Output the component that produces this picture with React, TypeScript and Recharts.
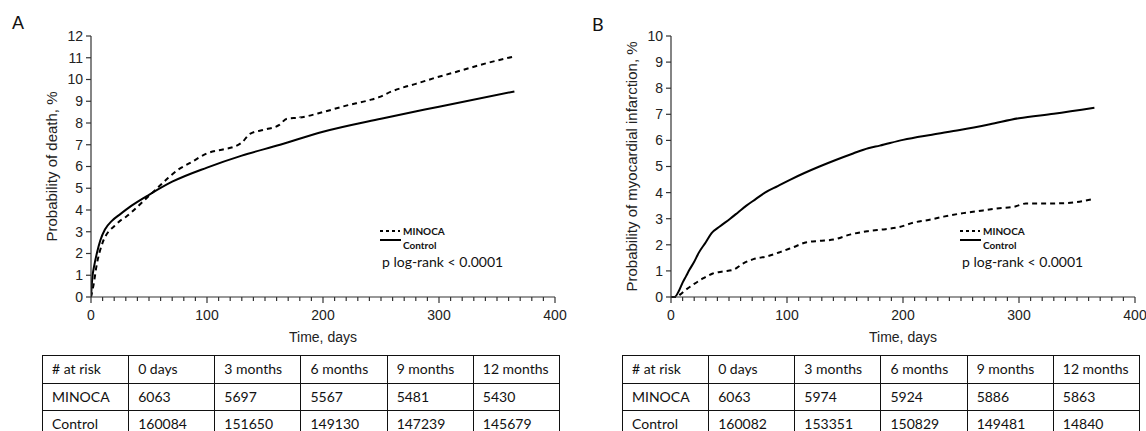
import React from "react";
import { LineChart, Line, XAxis, YAxis, Label } from "recharts";

// Panel A: probability of death (%)
const minocaDaysA = [0, 2, 5, 10, 15, 20, 25, 30, 35, 45, 55, 65, 75, 85, 100, 115, 123, 130, 137, 150, 162, 169, 180, 200, 220, 240, 249, 259, 270, 280, 295, 318, 341, 364];
const minocaProbA = [0, 0.5, 1.5, 2.5, 3.0, 3.25, 3.5, 3.68, 3.9, 4.4, 4.9, 5.4, 5.85, 6.15, 6.6, 6.8, 6.9, 7.1, 7.5, 7.7, 7.9, 8.2, 8.25, 8.5, 8.8, 9.05, 9.2, 9.45, 9.65, 9.8, 10.05, 10.4, 10.75, 11.05];
const controlDaysA = [0, 1, 3, 5, 8, 12, 18, 25, 35, 50, 70, 100, 130, 163, 200, 250, 300, 365];
const controlProbA = [0, 0.8, 1.5, 2.0, 2.6, 3.1, 3.5, 3.8, 4.2, 4.7, 5.3, 5.95, 6.5, 7.0, 7.6, 8.2, 8.75, 9.45];

// Panel B: probability of myocardial infarction (%)
const minocaDaysB = [0, 5, 8, 12, 20, 28, 36, 45, 54, 62, 71, 82, 94, 105, 117, 128, 140, 155, 169, 185, 197, 209, 222, 235, 250, 263, 283, 295, 306, 320, 341, 364];
const minocaProbB = [0, 0, 0.1, 0.25, 0.5, 0.72, 0.9, 0.98, 1.05, 1.28, 1.45, 1.55, 1.72, 1.9, 2.1, 2.15, 2.2, 2.4, 2.52, 2.6, 2.68, 2.85, 2.95, 3.08, 3.2, 3.28, 3.4, 3.45, 3.58, 3.58, 3.6, 3.75];
const controlDaysB = [0, 3, 7, 10, 13, 16, 20, 24, 30, 35, 42, 51, 58, 65, 73, 81, 92, 103, 115, 128, 142, 157, 170, 180, 200, 225, 249, 275, 300, 330, 365];
const controlProbB = [0, 0, 0.25, 0.55, 0.8, 1.05, 1.35, 1.7, 2.1, 2.45, 2.7, 3.0, 3.25, 3.5, 3.75, 4.0, 4.25, 4.5, 4.75, 5.0, 5.25, 5.5, 5.7, 5.8, 6.02, 6.22, 6.4, 6.62, 6.85, 7.02, 7.25];

const xTicks = [0, 10, 20, 30, 40, 50, 60, 70, 80, 90, 100, 110, 120, 130, 140, 150, 160, 170, 180, 190, 200, 210, 220, 230, 240, 250, 260, 270, 280, 290, 300, 310, 320, 330, 340, 350, 360, 370, 380, 390, 400];
const yTicksA = [0, 1, 2, 3, 4, 5, 6, 7, 8, 9, 10, 11, 12];
const yTicksB = [0, 1, 2, 3, 4, 5, 6, 7, 8, 9, 10];

const riskHeader = ["# at risk", "0 days", "3 months", "6 months", "9 months", "12 months"];
const riskMinocaA = ["6063", "5697", "5567", "5481", "5430"];
const riskControlA = ["160084", "151650", "149130", "147239", "145679"];
const riskMinocaB = ["6063", "5974", "5924", "5886", "5863"];
const riskControlB = ["160082", "153351", "150829", "149481", "14840"];

const AXIS = "#333";
const ARIAL = "Liberation Sans, Arial, sans-serif";
const CALIBRI = "Lato, Carlito, sans-serif";

const toPoints = (days: number[], probs: number[]) => days.map((d, i) => ({ day: d, p: probs[i] }));

const XTick = (props: any) => {
  const { x, y, payload } = props;
  const major = payload.value % 100 === 0;
  return (
    <g>
      <line x1={x} x2={x} y1={y} y2={y + (major ? 6 : 4)} stroke={AXIS} strokeWidth={1.2} />
      {major && (
        <text x={x} y={y + 23} textAnchor="middle" fontSize={14} fontFamily={ARIAL} fill="#222">
          {payload.value}
        </text>
      )}
    </g>
  );
};

interface PanelProps {
  left: number;
  width: number;
  letter: string;
  letterFont: string;
  yMax: number;
  yTicks: number[];
  yLabel: string;
  minoca: { day: number; p: number }[];
  control: { day: number; p: number }[];
  riskMinoca: string[];
  riskControl: string[];
}

const Panel = ({ left, width, letter, letterFont, yMax, yTicks, yLabel, minoca, control, riskMinoca, riskControl }: PanelProps) => {
  const rows = [riskHeader, ["MINOCA", ...riskMinoca], ["Control", ...riskControl]];
  return (
    <div style={{ position: "absolute", left, top: 0, width, height: 431 }}>
      <div style={{ position: "absolute", left: 12, top: 13, fontSize: 18, fontFamily: letterFont, color: "#111" }}>{letter}</div>
      <LineChart width={width} height={345} margin={{ top: 36, right: width - 555, left: 0, bottom: 0 }}>
        <XAxis
          dataKey="day"
          type="number"
          domain={[0, 400]}
          ticks={xTicks}
          interval={0}
          tick={<XTick />}
          tickLine={false}
          tickSize={0}
          tickMargin={0}
          axisLine={{ stroke: AXIS, strokeWidth: 1.2 }}
          height={48}
          allowDataOverflow
        >
          <Label
            content={(p: any) => (
              <text x={p.viewBox.x + p.viewBox.width / 2} y={p.viewBox.y + 45} textAnchor="middle" fontSize={14} fontFamily={ARIAL} fill="#222">
                Time, days
              </text>
            )}
          />
        </XAxis>
        <YAxis
          type="number"
          domain={[0, yMax]}
          ticks={yTicks}
          interval={0}
          width={91}
          tickSize={5}
          tickMargin={3}
          tick={{ fill: "#222", fontSize: 14, fontFamily: ARIAL }}
          tickLine={{ stroke: AXIS, strokeWidth: 1.2 }}
          axisLine={{ stroke: AXIS, strokeWidth: 1.2 }}
        >
          <Label
            content={(p: any) => {
              const cy = p.viewBox.y + p.viewBox.height / 2;
              return (
                <text x={57} y={cy} transform={`rotate(-90 57 ${cy})`} textAnchor="middle" fontSize={15} fontFamily={ARIAL} fill="#222">
                  {yLabel}
                </text>
              );
            }}
          />
        </YAxis>
        <Line data={control} dataKey="p" type="monotone" stroke="#000" strokeWidth={2} dot={false} isAnimationActive={false} />
        <Line data={minoca} dataKey="p" type="monotone" stroke="#000" strokeWidth={2} strokeDasharray="5 4" dot={false} isAnimationActive={false} />
      </LineChart>
      <svg style={{ position: "absolute", left: 0, top: 0, pointerEvents: "none" }} width={width} height={345}>
        <line x1={380} x2={400} y1={231} y2={231} stroke="#000" strokeWidth={2} strokeDasharray="3 3" />
        <text x={403} y={234.5} fontSize={10} fontWeight="bold" fontFamily={CALIBRI} fill="#111">MINOCA</text>
        <line x1={380} x2={401} y1={240} y2={240} stroke="#000" strokeWidth={2} />
        <text x={403} y={248.5} fontSize={10} fontWeight="bold" fontFamily={CALIBRI} fill="#111">Control</text>
        <text x={382} y={267} fontSize={14} fontFamily={CALIBRI} fill="#111">p log-rank &lt; 0.0001</text>
      </svg>
      <table
        style={{
          position: "absolute",
          left: 42,
          top: 355,
          width: 518,
          borderCollapse: "collapse",
          tableLayout: "fixed",
          fontFamily: CALIBRI,
          fontSize: 14,
          color: "#111",
        }}
      >
        <tbody>
          {rows.map((r, i) => (
            <tr key={i} style={{ height: 26.5 }}>
              {r.map((c, j) => (
                <td key={j} style={{ border: "1.4px solid #111", padding: "0 0 0 9px", height: 26.5, lineHeight: "24px", whiteSpace: "nowrap" }}>
                  {c}
                </td>
              ))}
            </tr>
          ))}
        </tbody>
      </table>
    </div>
  );
};

export default function App() {
  return (
    <div style={{ position: "absolute", left: 0, top: 0, width: 1146, height: 431, overflow: "hidden", background: "#fff" }}>
      <Panel
        left={0}
        width={580}
        letter="A"
        letterFont={ARIAL}
        yMax={12}
        yTicks={yTicksA}
        yLabel="Probability of death, %"
        minoca={toPoints(minocaDaysA, minocaProbA)}
        control={toPoints(controlDaysA, controlProbA)}
        riskMinoca={riskMinocaA}
        riskControl={riskControlA}
      />
      <Panel
        left={580}
        width={566}
        letter="B"
        letterFont={CALIBRI}
        yMax={10}
        yTicks={yTicksB}
        yLabel="Probability of myocardial infarction, %"
        minoca={toPoints(minocaDaysB, minocaProbB)}
        control={toPoints(controlDaysB, controlProbB)}
        riskMinoca={riskMinocaB}
        riskControl={riskControlB}
      />
    </div>
  );
}
